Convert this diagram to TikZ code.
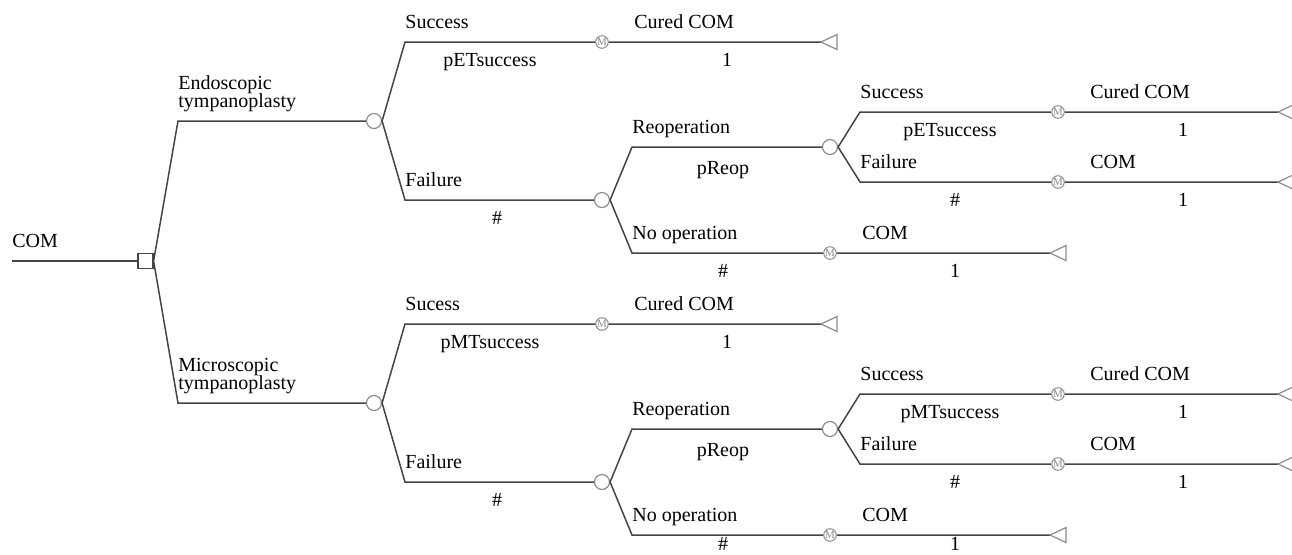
\documentclass[tikz,border=0pt]{standalone}
\usepackage{fontspec}
\setmainfont{Liberation Serif}
\usetikzlibrary{positioning}
\definecolor{tLine}{HTML}{444444}
\definecolor{tNode}{HTML}{8C8C8C}

\tikzset{
  br/.style={draw=tLine, line width=0.75pt},
  chance/.style={circle, draw=tNode, fill=white, line width=0.6pt, minimum size=7.5pt, inner sep=0pt},
  mnode/.style={circle, draw=tNode, fill=white, line width=0.5pt, minimum size=6.3pt, inner sep=0pt,
    text=tNode, font=\fontsize{5.5}{6}\selectfont},
  decis/.style={rectangle, draw=tLine, fill=white, line width=0.6pt, minimum size=7.5pt, inner sep=0pt},
  lab/.style={anchor=base west, inner sep=0pt},
  val/.style={anchor=base, inner sep=0pt},
  term/.pic={\draw[tNode, line width=0.6pt] (0,0) -- (16,-7.5) -- (16,7.5) -- cycle;}
}

\begin{document}
\begin{tikzpicture}[x=0.5pt, y=-0.5pt]
  \useasboundingbox (0,0) rectangle (1292,554);
  \coordinate (r) at (12,261);
  \node[decis] (d) at (145.5,261) {};
  \node[lab] (lr) at (12,247) {COM};
  \draw[br] (r) -- (d);
  \foreach \dy/\tr/\ps/\sc/\nb/\k in {0/Endoscopic/pETsuccess/Success/277/e, 282/Microscopic/pMTsuccess/Sucess/268/m} {
    \begin{scope}[shift={(0,\dy)}]
      \coordinate (t\k) at (178,121);
      \node[chance] (ca\k) at (374,121) {};
      \node[lab] (lt1\k) at (178,89) {\tr};
      \node[lab] (lt2\k) at (178,107) {tympanoplasty};
      \draw[br] (d.east) -- (t\k) -- (ca\k);

      \coordinate (s\k) at (405,42);
      \node[mnode] (ma\k) at (602,42) {M};
      \coordinate (za\k) at (821,42);
      \node[lab] (ls\k) at (405,28) {\sc};
      \node[val] (lps\k) at (490,66) {\ps};
      \node[lab] (lo1\k) at (634,28) {Cured COM};
      \node[val] (lv1\k) at (727,66) {1};
      \draw[br] (ca\k.east) -- (s\k) -- (ma\k) -- (za\k);
      \pic at (za\k) {term};

      \coordinate (f\k) at (405,200);
      \node[chance] (cb\k) at (602,200) {};
      \node[lab] (lf\k) at (405,186) {Failure};
      \node[val] (lh1\k) at (497,224) {\#};
      \draw[br] (ca\k.east) -- (f\k) -- (cb\k);

      \coordinate (o\k) at (632,147);
      \node[chance] (cc\k) at (830,147) {};
      \node[lab] (lo\k) at (632,133) {Reoperation};
      \node[val] (lpr\k) at (723,174) {pReop};
      \draw[br] (cb\k.east) -- (o\k) -- (cc\k);

      \coordinate (n\k) at (632,253);
      \node[mnode] (mb\k) at (830,253) {M};
      \coordinate (zb\k) at (1050,253);
      \node[lab] (ln\k) at (632,239) {No operation};
      \node[val] (lh2\k) at (723,\nb) {\#};
      \node[lab] (lo2\k) at (862,239) {COM};
      \node[val] (lv2\k) at (955,\nb) {1};
      \draw[br] (cb\k.east) -- (n\k) -- (mb\k) -- (zb\k);
      \pic at (zb\k) {term};

      \coordinate (u\k) at (860,112);
      \node[mnode] (mc\k) at (1058,112) {M};
      \coordinate (zc\k) at (1278,112);
      \node[lab] (lu\k) at (860,98) {Success};
      \node[val] (lpu\k) at (950,136) {\ps};
      \node[lab] (lo3\k) at (1090,98) {Cured COM};
      \node[val] (lv3\k) at (1183,136) {1};
      \draw[br] (cc\k.east) -- (u\k) -- (mc\k) -- (zc\k);
      \pic at (zc\k) {term};

      \coordinate (v\k) at (860,182);
      \node[mnode] (md\k) at (1058,182) {M};
      \coordinate (zd\k) at (1278,182);
      \node[lab] (lv\k) at (860,168) {Failure};
      \node[val] (lh3\k) at (955,206) {\#};
      \node[lab] (lo4\k) at (1090,168) {COM};
      \node[val] (lv4\k) at (1183,206) {1};
      \draw[br] (cc\k.east) -- (v\k) -- (md\k) -- (zd\k);
      \pic at (zd\k) {term};
    \end{scope}
  }
\end{tikzpicture}
\end{document}
